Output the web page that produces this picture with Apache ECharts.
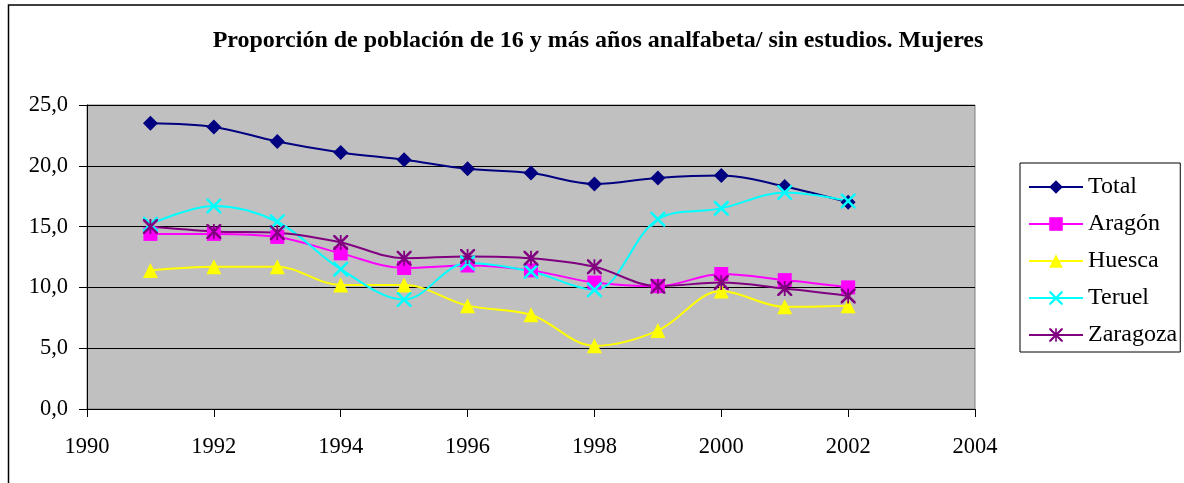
<!DOCTYPE html>
<html>
<head>
<meta charset="utf-8">
<script src="https://cdn.jsdelivr.net/npm/echarts@6/dist/echarts.min.js"></script>
<style>
  html, body { margin: 0; padding: 0; background: #fff; }
  #chart { width: 1184px; height: 483px; }
</style>
</head>
<body>
<div id="chart"></div>
<script>
// datos
const years = [1991, 1992, 1993, 1994, 1995, 1996, 1997, 1998, 1999, 2000, 2001, 2002]
const total    = [23.5, 23.2, 22.0, 21.1, 20.5, 19.75, 19.4, 18.5, 19.0, 19.2, 18.3, 17.0]
const aragon   = [14.4, 14.4, 14.15, 12.8, 11.6, 11.8, 11.4, 10.4, 10.1, 11.1, 10.6, 10.0]
const huesca   = [11.4, 11.7, 11.7, 10.2, 10.2, 8.5, 7.75, 5.2, 6.45, 9.7, 8.4, 8.5]
const teruel   = [15.2, 16.7, 15.4, 11.5, 9.0, 12.0, 11.3, 9.8, 15.6, 16.5, 17.8, 17.1]
const zaragoza = [15.0, 14.6, 14.5, 13.7, 12.4, 12.55, 12.4, 11.7, 10.1, 10.4, 9.9, 9.3]
const xTicks = [1990, 1992, 1994, 1996, 1998, 2000, 2002, 2004]

const FONT = '"Liberation Serif", "DejaVu Serif", serif'

// marcadores tipo Excel
const crossPath = 'path://M0,0 L1.2,0 L10,8.8 L10,10 L8.8,10 L0,1.2 Z M10,0 L10,1.2 L1.2,10 L0,10 L0,8.8 L8.8,0 Z'
const starPath = crossPath + ' M4.4,0 L5.6,0 L5.6,10 L4.4,10 Z'

const makeSeries = (name, values, color, symbol, size) => ({
  name,
  type: 'line',
  data: years.map((y, i) => [y, values[i]]),
  smooth: 0.35,
  symbol,
  symbolSize: size,
  lineStyle: { color, width: 2 },
  itemStyle: { color, borderWidth: 0 },
  emphasis: { disabled: true }
})

const chart = echarts.init(document.getElementById('chart'))

chart.setOption({
  animation: false,
  backgroundColor: '#fff',
  textStyle: { fontFamily: FONT },
  title: {
    text: 'Proporción de población de 16 y más años analfabeta/ sin estudios. Mujeres',
    left: 593,
    textAlign: 'center',
    top: 24,
    textStyle: { fontFamily: FONT, fontSize: 24, fontWeight: 'bold', color: '#000' }
  },
  graphic: [{
    type: 'rect',
    shape: { x: 8.5, y: 5, width: 1200, height: 520 },
    style: { fill: 'none', stroke: '#000', lineWidth: 1.5 },
    silent: true
  }],
  legend: {
    orient: 'vertical',
    left: 1020,
    top: 163,
    padding: [12, 3, 5, 8],
    itemGap: 13,
    itemWidth: 54,
    itemHeight: 17,
    borderColor: '#000',
    borderWidth: 1,
    backgroundColor: '#fff',
    textStyle: { fontFamily: FONT, fontSize: 24, lineHeight: 24, color: '#000' },
    data: ['Total', 'Aragón', 'Huesca', 'Teruel', 'Zaragoza']
  },
  grid: {
    left: 87,
    top: 105,
    right: 209,
    bottom: 74,
    show: true,
    backgroundColor: '#c0c0c0',
    borderColor: '#808080',
    borderWidth: 1
  },
  xAxis: {
    type: 'value',
    min: 1990,
    max: 2004,
    interval: 2,
    axisLine: { lineStyle: { color: '#000', width: 1 } },
    axisTick: { show: true, length: 8, lineStyle: { color: '#000' } },
    splitLine: { show: false },
    axisLabel: {
      margin: 27,
      fontFamily: FONT,
      fontSize: 22.5,
      color: '#000',
      formatter: v => (xTicks.includes(v) ? String(v) : '')
    }
  },
  yAxis: {
    type: 'value',
    min: 0,
    max: 25,
    interval: 5,
    axisLine: { show: true, lineStyle: { color: '#000', width: 1 } },
    axisTick: { show: true, length: 8, lineStyle: { color: '#000' } },
    splitLine: { lineStyle: { color: '#000', width: 1 } },
    axisLabel: {
      margin: 19,
      fontFamily: FONT,
      fontSize: 22.5,
      color: '#000',
      formatter: v => v.toFixed(1).replace('.', ',')
    }
  },
  series: [
    makeSeries('Total', total, '#000080', 'diamond', 15),
    makeSeries('Aragón', aragon, '#ff00ff', 'rect', 14),
    makeSeries('Huesca', huesca, '#ffff00', 'triangle', 15),
    makeSeries('Teruel', teruel, '#00ffff', crossPath, 15),
    makeSeries('Zaragoza', zaragoza, '#800080', starPath, 15)
  ]
})
</script>
</body>
</html>
